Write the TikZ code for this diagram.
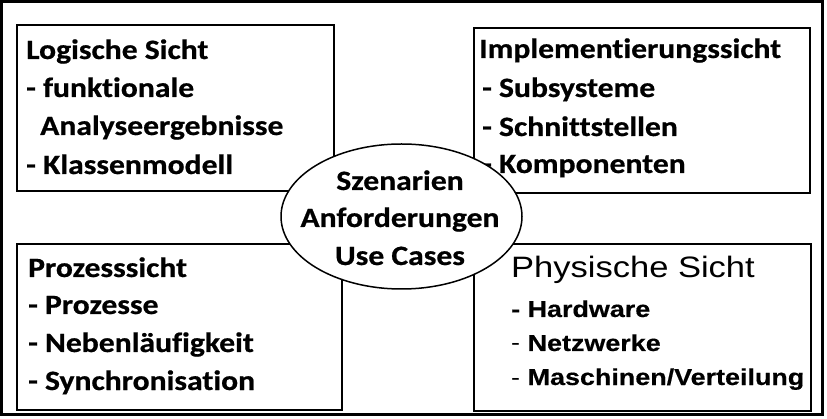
\documentclass[tikz,border=0pt]{standalone}
\usepackage{fontspec}
\usepackage{graphicx}
\setmainfont{Carlito}[Ligatures=NoCommon, BoldFeatures={FakeBold=0.6}]
\newfontfamily\arialf{Liberation Sans}[BoldFeatures={FakeBold=0.4}]
\usetikzlibrary{shapes.geometric}
\newcommand\sx[1]{\scalebox{1.13}[1]{#1}}
\newcommand\sy[1]{\scalebox{1.17}[1]{#1}}
\tikzset{
  frame/.style={draw, line width=3pt},
  viewbox/.style={draw, line width=2pt, anchor=north west, inner sep=0pt},
  txt/.style={anchor=base west, inner sep=0pt, font=\fontsize{28}{32}\selectfont\bfseries},
  ctxt/.style={anchor=base, inner sep=0pt, font=\fontsize{28}{32}\selectfont\bfseries},
  phtitle/.style={anchor=base west, inner sep=0pt, font=\arialf\fontsize{29.5}{34}\selectfont},
  phitem/.style={anchor=base west, inner sep=0pt, font=\arialf\fontsize{23}{28}\selectfont\bfseries},
  centre/.style={draw, ellipse, line width=1.5pt, fill=white, minimum width=241pt, minimum height=145pt, inner sep=0pt}
}
\begin{document}
\begin{tikzpicture}[x=1pt, y=-1pt]
\useasboundingbox (0,0) rectangle (827,419);
\draw[frame] (1.5,1.5) rectangle (822.5,414.5);
% boxes
\node[viewbox, minimum width=317pt, minimum height=166pt] (logic) at (16,24) {};
\node[viewbox, minimum width=336pt, minimum height=165pt] (impl) at (473,27) {};
\node[viewbox, minimum width=325pt, minimum height=166pt] (proc) at (16,243) {};
\node[viewbox, minimum width=337pt, minimum height=167pt] (phys) at (473,243) {};
% logic texts
\node[txt] (l1) at (26,59) {\sx{Logische Sicht}};
\node[txt] (l2) at (26,97) {\sx{- funktionale}};
\node[txt] (l3) at (40,135) {\sx{Analyseergebnisse}};
\node[txt] (l4) at (26,174) {\sx{- Klassenmodell}};
% impl texts
\node[txt] (i1) at (479,58) {\sx{Implementierungssicht}};
\node[txt] (i2) at (482,97) {\sx{- Subsysteme}};
\node[txt] (i3) at (482,136) {\sx{- Schnittstellen}};
\node[txt] (i4) at (482,173) {\sx{- Komponenten}};
% process texts
\node[txt] (p1) at (28,277) {\sx{Prozesssicht}};
\node[txt] (p2) at (28,314) {\sx{- Prozesse}};
\node[txt] (p3) at (28,352) {\sx{- Nebenläufigkeit}};
\node[txt] (p4) at (28,390) {\sx{- Synchronisation}};
% physical texts
\node[phtitle] (h1) at (511,278) {\sy{Physische Sicht}};
\node[phitem] (h2) at (511,317) {\sy{- Hardware}};
\node[phitem] (h3) at (511,351) {\sy{{\mdseries -} Netzwerke}};
\node[phitem] (h4) at (511,385) {\sy{{\mdseries -} Maschinen/Verteilung}};
% centre
\node[centre] (c) at (401.5,216.5) {};
\node[ctxt] (c1) at (400,190) {\sx{Szenarien}};
\node[ctxt] (c2) at (400,227) {\sx{Anforderungen}};
\node[ctxt] (c3) at (400,265) {\sx{Use Cases}};
\end{tikzpicture}
\end{document}
